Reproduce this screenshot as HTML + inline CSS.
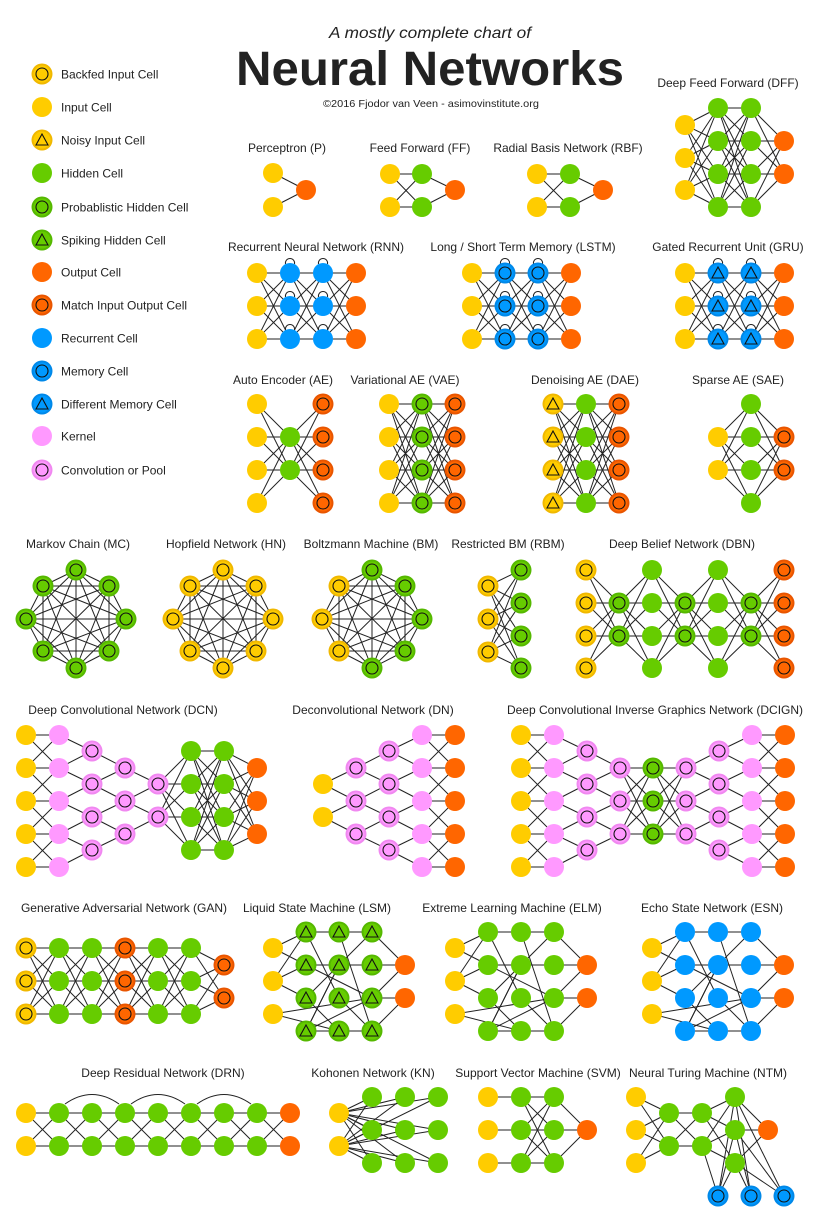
<!DOCTYPE html>
<html><head><meta charset="utf-8"><style>
html,body{margin:0;padding:0;background:#fff;}
svg{display:block;}
text{font-family:"Liberation Sans",sans-serif;fill:#222;}
</style></head><body>
<svg id="s" width="825" height="1221" viewBox="0 0 825 1221" xmlns="http://www.w3.org/2000/svg">
<g id="e" stroke="#222" stroke-width="1" fill="none"></g>
<g id="n"></g>
<g id="t">
<text x="430" y="38" font-size="16" font-style="italic" text-anchor="middle" textLength="202" lengthAdjust="spacingAndGlyphs">A mostly complete chart of</text>
<text x="430" y="85" font-size="48" font-weight="bold" text-anchor="middle" fill="#111" textLength="388" lengthAdjust="spacingAndGlyphs">Neural Networks</text>
<text x="431" y="107" font-size="10.5" text-anchor="middle" textLength="216" lengthAdjust="spacingAndGlyphs">©2016 Fjodor van Veen - asimovinstitute.org</text>
</g>
</svg>
<script>
const NS="http://www.w3.org/2000/svg";
const E=document.getElementById('e'),N=document.getElementById('n'),T=document.getElementById('t');
const C={y:'#ffcc00',g:'#66cc00',o:'#ff6600',b:'#0099ff',p:'#ff99ff'};
const R={y:'#f0b800',g:'#55b800',o:'#e85500',b:'#0088e8',p:'#f088f0'};
function el(p,tag,a,txt){const e=document.createElementNS(NS,tag);for(const k in a)e.setAttribute(k,a[k]);if(txt)e.textContent=txt;p.appendChild(e);return e;}
function node(x,y,t){const c=t[0],m=t[1];
 if(m){el(N,'circle',{cx:x,cy:y,r:10.5,fill:R[c]});el(N,'circle',{cx:x,cy:y,r:8.5,fill:C[c]});}
 else el(N,'circle',{cx:x,cy:y,r:10,fill:C[c]});
 if(m==='c')el(N,'circle',{cx:x,cy:y,r:6,fill:'none',stroke:'#111','stroke-width':1.1});
 if(m==='t')el(N,'polygon',{points:`${x},${y-6} ${x-6},${y+5} ${x+6},${y+5}`,fill:'none',stroke:'#111','stroke-width':1.1});
}
function line(a,b){el(E,'line',{x1:a[0],y1:a[1],x2:b[0],y2:b[1]});}
function col(x,ys,t){const a=ys.map(y=>[x,y]);a.forEach(p=>node(p[0],p[1],t));return a;}
function full(A,B){A.forEach(a=>B.forEach(b=>line(a,b)));}
function near(A,B){A.forEach(a=>B.forEach(b=>{if(Math.abs(a[1]-b[1])<=34)line(a,b);}));}
function horiz(A,B){A.forEach((a,i)=>line(a,B[i]));}
function chain(cols,fn){for(let i=0;i<cols.length-1;i++)(fn||full)(cols[i],cols[i+1]);}
function loops(A){A.forEach(p=>el(E,'path',{d:`M${p[0]-4.5},${p[1]-9} a4.6,4.6 0 1 1 9,0`}));}
function label(x,y,s){el(T,'text',{x:x,y:y,'font-size':12,'text-anchor':'middle'},s);}
const L=[['yc','Backfed Input Cell',74],['y','Input Cell',107],['yt','Noisy Input Cell',140],['g','Hidden Cell',173],['gc','Probablistic Hidden Cell',207],['gt','Spiking Hidden Cell',240],['o','Output Cell',272],['oc','Match Input Output Cell',305],['b','Recurrent Cell',338],['bc','Memory Cell',371],['bt','Different Memory Cell',404],['p','Kernel',436],['pc','Convolution or Pool',470]];
L.forEach(l=>{node(42,l[2],l[0]);el(T,'text',{x:61,y:l[2]+4.5,'font-size':12},l[1]);});
const r3=[273,306,339];
label(287,152,'Perceptron (P)');
full(col(273,[173,207],'y'),col(306,[190],'o'));
label(420,152,'Feed Forward (FF)');
{const a=col(390,[174,207],'y'),b=col(422,[174,207],'g'),c=col(455,[190],'o');full(a,b);full(b,c);}
label(568,152,'Radial Basis Network (RBF)');
{const a=col(537,[174,207],'y'),b=col(570,[174,207],'g'),c=col(603,[190],'o');full(a,b);full(b,c);}
label(728,87,'Deep Feed Forward (DFF)');
chain([col(685,[125,158,190],'y'),col(718,[108,141,174,207],'g'),col(751,[108,141,174,207],'g'),col(784,[141,174],'o')]);
function rnn(x,t){const c=[col(x,r3,'y'),col(x+33,r3,t),col(x+66,r3,t),col(x+99,r3,'o')];chain(c);loops(c[1]);loops(c[2]);}
label(316,251,'Recurrent Neural Network (RNN)');rnn(257,'b');
label(523,251,'Long / Short Term Memory (LSTM)');rnn(472,'bc');
label(728,251,'Gated Recurrent Unit (GRU)');rnn(685,'bt');
const r4=[404,437,470,503];
label(283,384,'Auto Encoder (AE)');chain([col(257,r4,'y'),col(290,[437,470],'g'),col(323,r4,'oc')]);
label(405,384,'Variational AE (VAE)');chain([col(389,r4,'y'),col(422,r4,'gc'),col(455,r4,'oc')]);
label(585,384,'Denoising AE (DAE)');chain([col(553,r4,'yt'),col(586,r4,'g'),col(619,r4,'oc')]);
label(738,384,'Sparse AE (SAE)');chain([col(718,[437,470],'y'),col(751,r4,'g'),col(784,[437,470],'oc')]);
function oct(cx,types){const P=[[0,570],[-33,586],[33,586],[-50,619],[50,619],[-33,651],[33,651],[0,668]].map(p=>[cx+p[0],p[1]]);
 for(let i=0;i<8;i++)for(let j=i+1;j<8;j++)line(P[i],P[j]);P.forEach((p,i)=>node(p[0],p[1],types[i]));}
label(78,548,'Markov Chain (MC)');oct(76,Array(8).fill('gc'));
label(226,548,'Hopfield Network (HN)');oct(223,Array(8).fill('yc'));
label(371,548,'Boltzmann Machine (BM)');oct(372,['gc','yc','gc','yc','gc','yc','gc','gc']);
label(508,548,'Restricted BM (RBM)');full(col(488,[586,619,652],'yc'),col(521,[570,603,636,668],'gc'));
const d4=[570,603,636,668],d2=[603,636];
label(682,548,'Deep Belief Network (DBN)');
chain([col(586,d4,'yc'),col(619,d2,'gc'),col(652,d4,'g'),col(685,d2,'gc'),col(718,d4,'g'),col(751,d2,'gc'),col(784,d4,'oc')]);
const k5=[735,768,801,834,867],c4=[751,784,817,850],c3=[768,801,834],c2=[784,817];
label(123,714,'Deep Convolutional Network (DCN)');
{const a=[col(26,k5,'y'),col(59,k5,'p'),col(92,c4,'pc'),col(125,c3,'pc'),col(158,c2,'pc')];chain(a,near);
 const g1=col(191,c4,'g'),g2=col(224,c4,'g'),o=col(257,c3,'o');full(a[4],g1);full(g1,g2);full(g2,o);}
label(373,714,'Deconvolutional Network (DN)');
chain([col(323,c2,'y'),col(356,c3,'pc'),col(389,c4,'pc'),col(422,k5,'p'),col(455,k5,'o')],near);
label(655,714,'Deep Convolutional Inverse Graphics Network (DCIGN)');
{const a=[col(521,k5,'y'),col(554,k5,'p'),col(587,c4,'pc'),col(620,c3,'pc')];chain(a,near);
 const g=col(653,c3,'gc'),b=[col(686,c3,'pc'),col(719,c4,'pc'),col(752,k5,'p'),col(785,k5,'o')];full(a[3],g);full(g,b[0]);chain(b,near);}
const g3=[948,981,1014],l4=[932,965,998,1031],l2=[965,998];
label(124,912,'Generative Adversarial Network (GAN)');
chain([col(26,g3,'yc'),col(59,g3,'g'),col(92,g3,'g'),col(125,g3,'oc'),col(158,g3,'g'),col(191,g3,'g'),col(224,l2,'oc')]);
function sparse(x,t){const Y=g3.map(y=>[x,y]),a=l4.map(y=>[x+33,y]),b=l4.map(y=>[x+66,y]),c=l4.map(y=>[x+99,y]),O=l2.map(y=>[x+132,y]);
 const ed=[[Y[0],a[0]],[Y[0],a[1]],[Y[1],a[0]],[Y[1],a[1]],[Y[1],a[2]],[Y[2],c[2]],[Y[2],b[3]],
 [a[0],b[0]],[a[0],b[2]],[a[1],b[1]],[a[1],c[2]],[a[2],c[0]],[a[2],b[3]],[a[3],b[3]],[a[3],c[2]],[a[3],b[1]],
 [b[0],c[3]],[b[1],c[1]],[b[1],a[3]],[b[2],c[3]],[b[3],c[3]],[b[0],c[0]],
 [c[0],O[0]],[c[1],O[0]],[c[2],O[0]],[c[2],O[1]],[c[3],O[1]]];
 ed.forEach(e=>line(e[0],e[1]));
 Y.forEach(p=>node(p[0],p[1],'y'));[a,b,c].forEach(A=>A.forEach(p=>node(p[0],p[1],t)));O.forEach(p=>node(p[0],p[1],'o'));}
label(317,912,'Liquid State Machine (LSM)');sparse(273,'gt');
label(512,912,'Extreme Learning Machine (ELM)');sparse(455,'g');
label(712,912,'Echo State Network (ESN)');sparse(652,'b');
label(163,1077,'Deep Residual Network (DRN)');
{const rr=[1113,1146];const cs=[col(26,rr,'y')];for(let i=0;i<7;i++)cs.push(col(59+33*i,rr,'g'));cs.push(col(290,rr,'o'));chain(cs);
 [[59,125],[125,191],[191,257]].forEach(a=>el(E,'path',{d:`M${a[0]+6},${1104} Q${(a[0]+a[1])/2},${1085} ${a[1]-6},${1104}`}));}
label(373,1077,'Kohonen Network (KN)');
{const y=col(339,[1113,1146],'y');const G=[];[372,405,438].forEach(x=>[1097,1130,1163].forEach(yy=>G.push([x,yy])));full(y,G);G.forEach(p=>node(p[0],p[1],'g'));}
label(538,1077,'Support Vector Machine (SVM)');
{const r=[1097,1130,1163];const a=col(488,r,'y'),b=col(521,r,'g'),c=col(554,r,'g'),o=col(587,[1130],'o');horiz(a,b);full(b,c);full(c,o);}
label(708,1077,'Neural Turing Machine (NTM)');
{const r=[1097,1130,1163];const a=col(636,r,'y'),b=col(669,[1113,1146],'g'),c=col(702,[1113,1146],'g'),d=col(735,r,'g'),o=col(768,[1130],'o'),m=col(718,[1196],'bc').concat(col(751,[1196],'bc'),col(784,[1196],'bc'));
 full(a,b);full(b,c);full(c,d);full(d,o);full(d,m);line(c[1],m[0]);}
</script>
</body></html>
